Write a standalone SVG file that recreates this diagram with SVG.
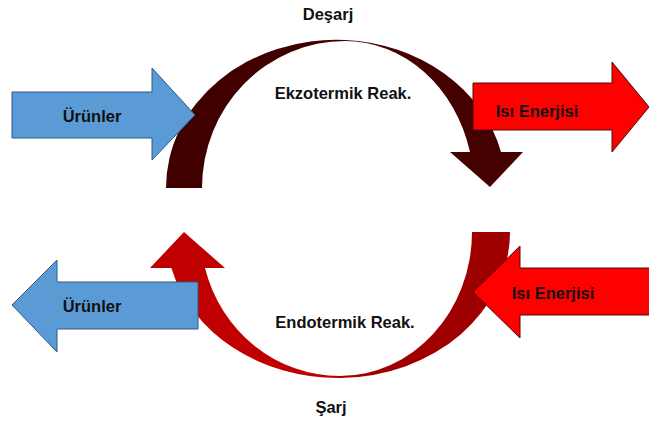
<svg xmlns="http://www.w3.org/2000/svg" width="649" height="428" viewBox="0 0 649 428">
<style>
.lbl{font-family:"Liberation Sans",Arial,sans-serif;font-weight:bold;font-size:16.5px;fill:#111;text-anchor:middle}
.blue{fill:#5B9BD5;stroke:#2F5A85;stroke-width:1}
.red{fill:#FF0000;stroke:#4a0a0a;stroke-width:1}
</style>
<rect width="649" height="428" fill="#fff"/>
<g id="connectors">
  <g id="top-arc">
    <path d="M166,188 A170,148 0 0 1 345,40 L345,41 A143,147 0 0 0 202,188 Z" fill="#400000"/>
    <path d="M345,40 A170,148 0 0 1 501,152 L523,152 L490,187 L450,152 L470,152 A129,147 0 0 0 345,41 Z" fill="#450000"/>
  </g>
  <g id="bottom-arc">
    <path d="M340,378 A172,146 0 0 0 510,232 L472,232 A132,144 0 0 1 340,376 Z" fill="#9E0000"/>
    <path d="M340,378 A172,146 0 0 1 171.4,268 L150,268 L184,232 L225,268 L205,268 A139,144 0 0 0 340,376 Z" fill="#C00000"/>
  </g>
</g>
<g id="urunler-top">
  <path class="blue" d="M12,92 L152,92 L152,68 L195,115 L152,160 L152,138 L12,138 Z"/>
  <text class="lbl" x="92" y="122">Ürünler</text>
</g>
<g id="isi-top">
  <path class="red" d="M473,83 L612,83 L612,62 L649,107 L612,152 L612,130 L473,130 Z"/>
  <text class="lbl" x="537" y="117">Isı Enerjisi</text>
</g>
<g id="urunler-bottom">
  <path class="blue" d="M12,305 L57,260 L57,282 L198,282 L198,329 L57,329 L57,352 Z"/>
  <text class="lbl" x="92" y="312">Ürünler</text>
</g>
<g id="isi-bottom">
  <path class="red" d="M473,292 L520,246 L520,268 L650,268 L650,315 L520,315 L520,338 Z"/>
  <text class="lbl" x="553" y="299">Isı Enerjisi</text>
</g>
<g id="labels">
  <text class="lbl" x="328" y="20">Deşarj</text>
  <text class="lbl" x="343" y="99">Ekzotermik Reak.</text>
  <text class="lbl" x="345" y="328">Endotermik Reak.</text>
  <text class="lbl" x="331" y="413">Şarj</text>
</g>
</svg>
